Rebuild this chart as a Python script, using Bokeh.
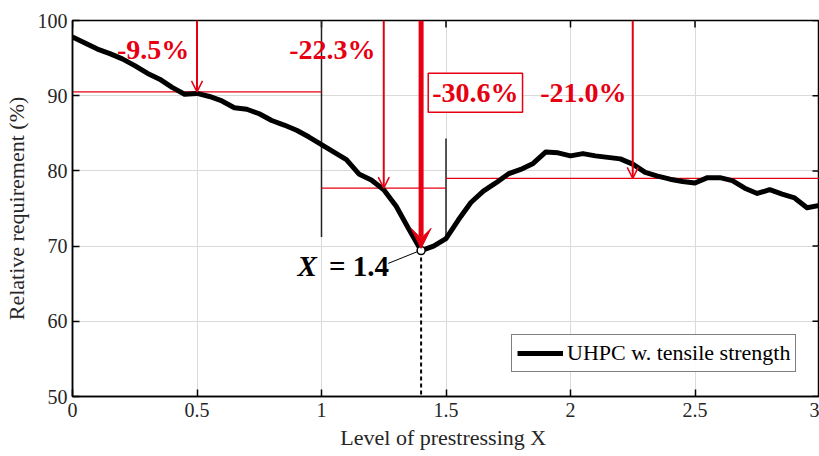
import math
from bokeh.plotting import figure
from bokeh.models import (Range1d, Arrow, OpenHead, VeeHead, Label,
                          Legend, LegendItem, FixedTicker)
from bokeh.embed import file_html
from bokeh.resources import INLINE

# ---------------- data ----------------
x_level = [0.0, 0.05, 0.1, 0.15, 0.2, 0.25, 0.3, 0.35, 0.4, 0.45,
           0.5, 0.55, 0.6, 0.65, 0.7, 0.75, 0.8, 0.85, 0.9, 0.95,
           1.0, 1.05, 1.1, 1.15, 1.2, 1.25, 1.3, 1.35, 1.4, 1.45,
           1.5, 1.55, 1.6, 1.65, 1.7, 1.75, 1.8, 1.85, 1.9, 1.95,
           2.0, 2.05, 2.1, 2.15, 2.2, 2.25, 2.3, 2.35, 2.4, 2.45,
           2.5, 2.55, 2.6, 2.65, 2.7, 2.75, 2.8, 2.85, 2.9, 2.95, 3.0]
requirement = [97.8, 97.0, 96.2, 95.6, 94.9, 94.0, 93.0, 92.2, 91.1, 90.2,
               90.3, 89.9, 89.3, 88.4, 88.2, 87.6, 86.7, 86.1, 85.4, 84.5,
               83.5, 82.5, 81.5, 79.6, 78.8, 77.5, 75.3, 72.3, 69.4, 70.0,
               71.0, 73.5, 75.8, 77.3, 78.4, 79.6, 80.2, 81.0, 82.5, 82.4,
               82.0, 82.3, 82.0, 81.8, 81.6, 80.9, 79.8, 79.3, 78.9, 78.6,
               78.4, 79.1, 79.1, 78.7, 77.7, 77.0, 77.5, 76.9, 76.4, 75.1, 75.4]

seg_start = [0.0, 1.0, 1.5]
seg_end = [1.0, 1.5, 3.0]
seg_reduction = [-9.5, -22.3, -21.0]
seg_arrow_x = [0.5, 1.25, 2.25]
seg_labels = ["-9.5%", "-22.3%", "-21.0%"]

opt_x = 1.4
opt_reduction = -30.6
opt_label = "-30.6%"

x_ticks = [0, 0.5, 1, 1.5, 2, 2.5, 3]
y_ticks = [50, 60, 70, 80, 90, 100]

RED = "#e60012"
FONT = "Liberation Serif"
TICK_COLOR = "#262626"
X_MIN, X_MAX, Y_MIN, Y_MAX = 0, 3, 50, 100

p = figure(width=819, height=456, output_backend="svg", toolbar_location=None,
           x_range=Range1d(X_MIN, X_MAX), y_range=Range1d(Y_MIN, Y_MAX),
           min_border_left=69, min_border_right=0, min_border_top=20,
           min_border_bottom=60)
p.background_fill_color = "white"
p.border_fill_color = "white"
p.outline_line_color = "black"
p.outline_line_width = 1.5

for ax, ticks in ((p.xaxis[0], x_ticks), (p.yaxis[0], y_ticks)):
    ax.ticker = FixedTicker(ticks=ticks)
    ax.major_tick_in = 7
    ax.major_tick_out = 0
    ax.minor_tick_line_color = None
    ax.axis_line_color = "black"
    ax.axis_line_width = 1.5
    ax.major_tick_line_width = 1.5
    ax.major_label_text_font = FONT
    ax.major_label_text_font_size = "20px"
    ax.major_label_text_color = TICK_COLOR
    ax.axis_label_text_font = FONT
    ax.axis_label_text_font_size = "22px"
    ax.axis_label_text_font_style = "normal"
    ax.axis_label_text_color = TICK_COLOR
p.xaxis.major_label_standoff = 6
p.yaxis.major_label_standoff = 5
p.xaxis.major_label_overrides = {0: "0", 1: "1", 2: "2", 3: "3"}

p.yaxis.axis_label = "Relative requirement (%)"
p.yaxis.axis_label_standoff = 6
p.xaxis.axis_label = "Level of prestressing  X"
p.xaxis.axis_label_standoff = 5

# inward ticks on top and right edges of the box
p.scatter(x_ticks, [Y_MAX] * len(x_ticks), marker="dash", angle=math.pi / 2, size=14,
          line_color="black", line_width=1.5)
p.scatter([X_MAX] * len(y_ticks), y_ticks, marker="dash", size=14,
          line_color="black", line_width=1.5)

p.xgrid.ticker = FixedTicker(ticks=x_ticks)
p.ygrid.ticker = FixedTicker(ticks=y_ticks)
p.grid.grid_line_color = "#dadada"
p.grid.grid_line_width = 1

# boundary lines between ranges
p.segment(x0=[seg_start[1], seg_start[2]], y0=[100, 84.3],
          x1=[seg_start[1], seg_start[2]], y1=[71.2, 71.0],
          line_color="#222222", line_width=1.5)

# horizontal reduction levels
levels = [100 + r for r in seg_reduction]
p.segment(x0=seg_start, y0=levels, x1=seg_end, y1=levels, line_color=RED, line_width=1.2)

# dashed line at the optimum
opt_level = 100 + opt_reduction
p.segment(x0=[opt_x], y0=[opt_level], x1=[opt_x], y1=[Y_MIN], line_color="black",
          line_width=2, line_dash="4 3")

# curve
curve = p.line(x_level, requirement, line_color="black", line_width=5, line_join="round")

# thin arrows
for ax_, lv in zip(seg_arrow_x, levels):
    p.add_layout(Arrow(end=OpenHead(size=11, line_color=RED, line_width=1.5),
                       x_start=ax_, y_start=Y_MAX, x_end=ax_, y_end=lv,
                       line_color=RED, line_width=2))

# thick arrow at optimum
p.add_layout(Arrow(end=VeeHead(size=20, fill_color=RED, line_color=RED, line_width=1),
                   x_start=opt_x, y_start=Y_MAX, x_end=opt_x, y_end=opt_level + 0.3,
                   line_color=RED, line_width=5))

# leader line and marker
p.segment(x0=[1.268], y0=[67.7], x1=[opt_x - 0.012], y1=[opt_level - 0.1],
          line_color="black", line_width=1)
p.scatter([opt_x], [opt_level], size=8, marker="circle", fill_color="white",
          line_color="black", line_width=1.5)

# reduction labels
label_pos = [(0.324, 96.2), (1.044, 96.2), (2.052, 90.4)]
for txt, (lx, ly) in zip(seg_labels, label_pos):
    p.add_layout(Label(x=lx, y=ly, text=txt, text_align="center", text_baseline="middle",
                       text_font=FONT, text_font_size="28px", text_font_style="bold",
                       text_color=RED))

p.add_layout(Label(x=1.618, y=90.4, text=opt_label, text_align="center",
                   text_baseline="middle", text_font=FONT, text_font_size="28px",
                   text_font_style="bold", text_color=RED, border_line_color=RED,
                   border_line_width=1.5, background_fill_color="white", padding=4))

# "X = 1.4" label
p.add_layout(Label(x=0.904, y=67.3, text="X", text_align="left", text_baseline="middle",
                   text_font=FONT, text_font_size="29px", text_font_style="bold italic",
                   text_color="black"))
p.add_layout(Label(x=1.03, y=67.3, text="= 1.4", text_align="left", text_baseline="middle",
                   text_font=FONT, text_font_size="29px", text_font_style="bold",
                   text_color="black"))

legend = Legend(items=[LegendItem(label="UHPC w. tensile strength", renderers=[curve])],
                location=(439, 24))
legend.border_line_color = "black"
legend.border_line_width = 1.5
legend.background_fill_color = "white"
legend.label_text_font = FONT
legend.label_text_font_size = "22px"
legend.label_text_color = "black"
legend.glyph_width = 46
legend.glyph_height = 22
legend.label_height = 22
legend.padding = 5
legend.margin = 0
legend.spacing = 0
legend.label_standoff = 4
p.add_layout(legend, "center")

open("out.html", "w").write(file_html(p, INLINE))
